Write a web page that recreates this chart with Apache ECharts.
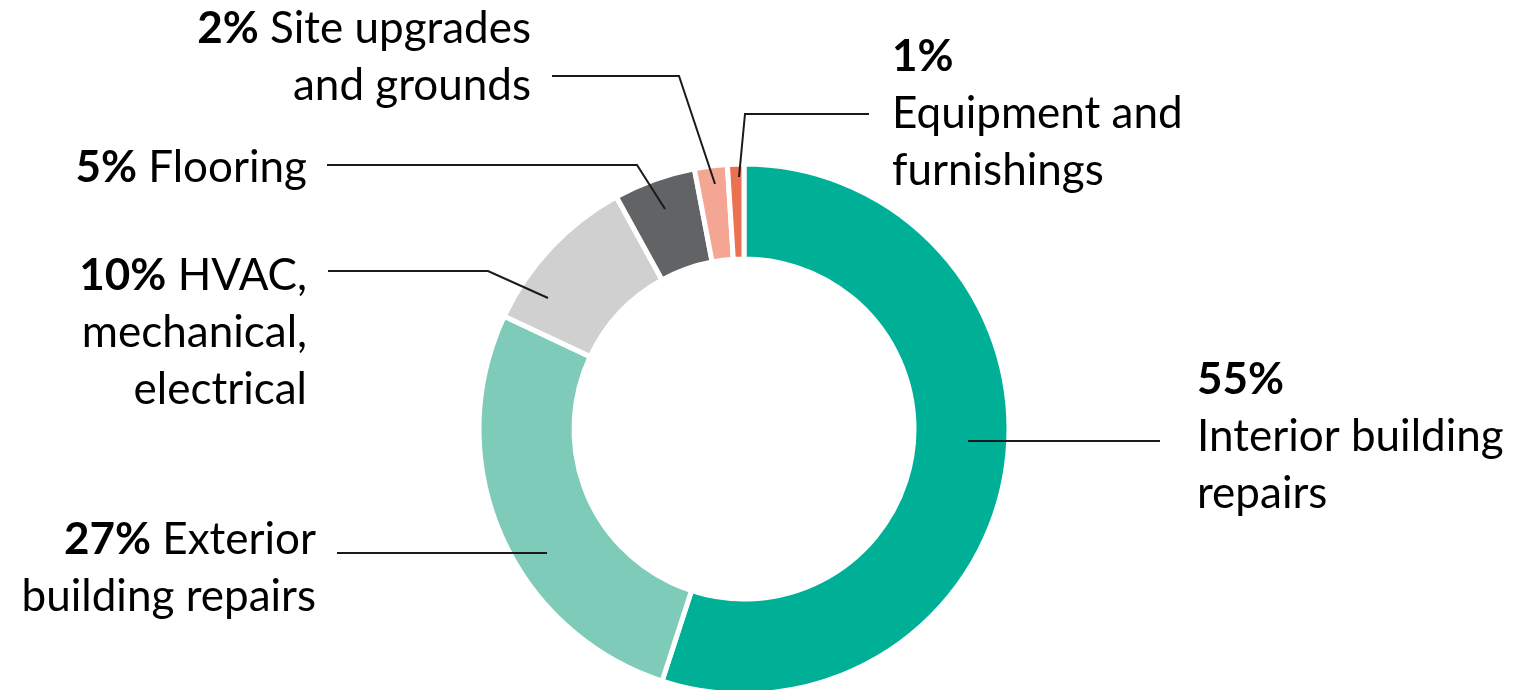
<!DOCTYPE html>
<html>
<head>
<meta charset="utf-8">
<script src="https://cdn.jsdelivr.net/npm/echarts@6/dist/echarts.min.js"></script>
<style>
  html, body { margin: 0; padding: 0; background: #fff; }
  #box { width: 1521px; height: 690px; }
</style>
</head>
<body>
<div id="box"></div>
<script>
// 数据
var names = ['Interior building repairs', 'Exterior building repairs', 'HVAC, mechanical, electrical',
             'Flooring', 'Site upgrades and grounds', 'Equipment and furnishings'];
var values = [55, 27, 10, 5, 2, 1];
var colors = ['#00b096', '#7fcbba', '#d0d0d0', '#616365', '#f4a594', '#ea7151'];
// 标签换行
var labelLines = [
    ['', 'Interior building', 'repairs'],
    [' Exterior', 'building repairs'],
    [' HVAC,', 'mechanical,', 'electrical'],
    [' Flooring'],
    [' Site upgrades', 'and grounds'],
    ['', 'Equipment and', 'furnishings']
];

// 标签位置和引导线
var labelPos = [
    { x: 1197, y: 437, align: 'left',  line: [[968, 441], [1060, 441], [1160, 441]] },
    { x: 316,  y: 568, align: 'right', line: [[547, 553], [450, 553], [337, 553]] },
    { x: 307,  y: 333, align: 'right', line: [[548, 298], [488, 271], [328, 271]] },
    { x: 307,  y: 168, align: 'right', line: [[665, 209], [637, 165], [327, 165]] },
    { x: 531,  y: 57,  align: 'right', line: [[715, 184], [679, 76], [552, 76]] },
    { x: 892,  y: 114, align: 'left',  line: [[739, 177], [745, 114], [869, 114]] }
];

var dataList = [];
var overlayList = [];
for (var i = 0; i < values.length; i++) {
    dataList.push({
        value: values[i],
        name: names[i],
        itemStyle: { color: colors[i] }
    });
    overlayList.push({ value: values[i], name: names[i] });
}

var dom = document.getElementById('box');
var myChart = echarts.init(dom);
var option = {
    animation: false,
    series: [
        {
            type: 'pie',
            z: 2,
            center: [744, 429],
            radius: [170, 265],
            startAngle: 90,
            clockwise: true,
            data: dataList,
            itemStyle: {
                borderColor: '#fff',
                borderWidth: 5
            },
            label: { show: false },
            labelLine: { show: false }
        },
        {
            // 透明层，只画标签和引导线（在扇区上面）
            type: 'pie',
            z: 5,
            silent: true,
            center: [744, 429],
            radius: [170, 265],
            startAngle: 90,
            clockwise: true,
            avoidLabelOverlap: false,
            data: overlayList,
            itemStyle: { color: 'rgba(0,0,0,0)', borderWidth: 0 },
            label: {
                show: true,
                position: 'outside',
                fontFamily: 'Lato',
                fontSize: 44,
                lineHeight: 57,
                color: '#000',
                formatter: function (p) {
                    var ls = labelLines[p.dataIndex];
                    var s = '{p|' + p.value + '%}' + (ls[0] ? '{t|' + ls[0] + '}' : '');
                    for (var k = 1; k < ls.length; k++) {
                        s += '\n{t|' + ls[k] + '}';
                    }
                    return s;
                },
                rich: {
                    p: { fontFamily: 'Lato', fontWeight: 'bold', fontSize: 44, lineHeight: 57, color: '#000' },
                    t: { fontFamily: 'Lato', fontSize: 44, lineHeight: 57, color: '#000' }
                }
            },
            labelLine: {
                show: true,
                lineStyle: { color: '#1a1a1a', width: 2 }
            },
            labelLayout: function (params) {
                var L = labelPos[params.dataIndex];
                return {
                    x: L.x,
                    y: L.y,
                    align: L.align,
                    verticalAlign: 'middle',
                    labelLinePoints: L.line
                };
            }
        }
    ]
};

if (option && typeof option === 'object') {
    myChart.setOption(option, true);
}
</script>
</body>
</html>
